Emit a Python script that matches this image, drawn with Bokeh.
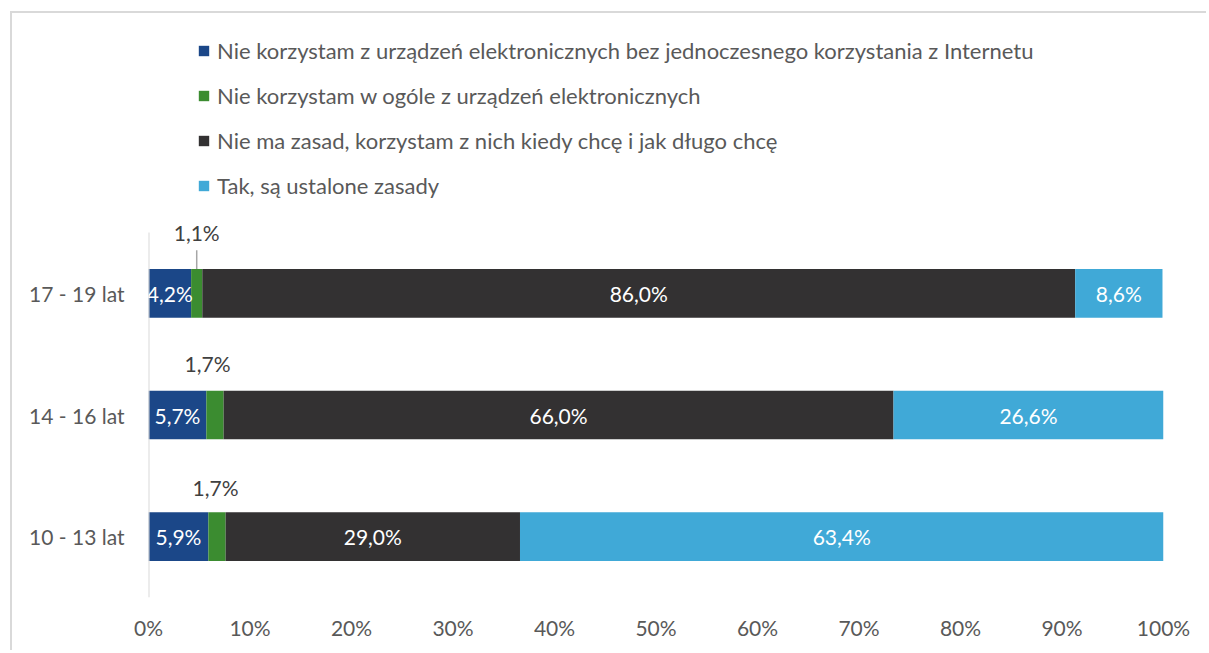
from bokeh.plotting import figure
from bokeh.models import (Range1d, FixedTicker, PrintfTickFormatter,
                          Legend, LegendItem, ColumnDataSource)
from bokeh.core.properties import value
from bokeh.embed import file_html
from bokeh.resources import INLINE

categories = ["10 - 13 lat", "14 - 16 lat", "17 - 19 lat"]
series_names = [
    "Nie korzystam z urządzeń elektronicznych bez jednoczesnego korzystania z Internetu",
    "Nie korzystam w ogóle z urządzeń elektronicznych",
    "Nie ma zasad, korzystam z nich kiedy chcę i jak długo chcę",
    "Tak, są ustalone zasady",
]
blue_vals = [5.9, 5.7, 4.2]
green_vals = [1.7, 1.7, 1.1]
dark_vals = [29.0, 66.0, 86.0]
light_vals = [63.4, 26.6, 8.6]
x_ticks = [0, 10, 20, 30, 40, 50, 60, 70, 80, 90, 100]

colors = ["#1b4788", "#3b8c30", "#333132", "#40a9d7"]
keys = ["blue", "green", "dark", "light"]
FONT = "Lato"

def fmt(v):
    return f"{v:.1f}".replace(".", ",") + "%"

ypos = list(range(len(categories)))
data = dict(y=ypos, blue=blue_vals, green=green_vals, dark=dark_vals, light=light_vals)
src = ColumnDataSource(data)

W, H = 1196, 639
FRAME_H = 584
unit_px = 365 / 3
y_top = -0.5 + FRAME_H / unit_px

p = figure(width=W, height=H, output_backend="svg", toolbar_location=None,
           y_range=Range1d(-0.5, y_top), x_range=Range1d(0, 100),
           min_border_left=136, min_border_right=W - 1151, min_border_top=0,
           min_border_bottom=H - FRAME_H)
p.margin = (11, 0, 0, 10)
p.styles = {"border-top": "2px solid #d9d9d9", "border-left": "2px solid #d9d9d9"}
p.outline_line_color = None
p.xgrid.grid_line_color = None
p.ygrid.grid_line_color = None

renderers = p.hbar_stack(keys, y="y", height=0.4, color=colors, source=src, line_color=None)

# axes
p.xaxis.ticker = FixedTicker(ticks=x_ticks)
p.xaxis.formatter = PrintfTickFormatter(format="%d%%")
p.xaxis.axis_line_color = None
p.xaxis.major_tick_line_color = None
p.xaxis.minor_tick_line_color = None
p.xaxis.major_label_text_font = FONT
p.xaxis.major_label_text_font_size = "21px"
p.xaxis.major_label_text_color = "#595959"
p.xaxis.major_label_standoff = 11

p.yaxis.ticker = FixedTicker(ticks=ypos)
p.yaxis.major_label_overrides = {i: c for i, c in zip(ypos, categories)}
p.yaxis.axis_line_color = None
p.yaxis.major_tick_line_color = None
p.yaxis.minor_tick_line_color = None
p.yaxis.major_label_text_font = FONT
p.yaxis.major_label_text_font_size = "21px"
p.yaxis.major_label_text_color = "#595959"
p.yaxis.major_label_standoff = 18

# vertical axis line drawn along the category band
p.segment(x0=[0], x1=[0], y0=[-0.5], y1=[len(categories) - 0.5],
          line_color="#d9d9d9", line_width=2)

# inside labels
cum_blue = [b / 2 for b in blue_vals]
cum_dark = [b + g + d / 2 for b, g, d in zip(blue_vals, green_vals, dark_vals)]
cum_light = [b + g + d + l / 2 for b, g, d, l in zip(blue_vals, green_vals, dark_vals, light_vals)]
lab_x = cum_blue + cum_dark + cum_light
lab_y = ypos * 3
lab_t = [fmt(v) for v in blue_vals] + [fmt(v) for v in dark_vals] + [fmt(v) for v in light_vals]
p.text(x=lab_x, y=lab_y, text=lab_t, text_color="white", text_align="center",
       text_baseline="middle", text_font=value(FONT), text_font_size="21px")

# green labels above bars
green_center = [b + g / 2 for b, g in zip(blue_vals, green_vals)]
lift = [0.403, 0.427, 0.5]
xoff = [-1.5, -7.5, 0]
p.text(x=green_center, y=[y + l for y, l in zip(ypos, lift)],
       text=[fmt(v) for v in green_vals], x_offset=xoff,
       text_color="#404040", text_align="center", text_baseline="middle",
       text_font=value(FONT), text_font_size="21px")

# leader line for the smallest label
p.segment(x0=[green_center[2]], x1=[green_center[2]], y0=[ypos[2] + 0.2],
          y1=[ypos[2] + 0.355], line_color="#a6a6a6", line_width=1.5)

legend = Legend(items=[LegendItem(label=n, renderers=[r]) for n, r in zip(series_names, renderers)],
                location=(49, 398), orientation="vertical")
legend.padding = 0
legend.margin = 0
legend.border_line_color = None
legend.background_fill_alpha = 0
legend.glyph_width = 13
legend.glyph_height = 13
legend.label_height = 27
legend.label_standoff = 7
legend.spacing = 18
legend.label_text_font = FONT
legend.label_text_font_size = "22px"
legend.label_text_color = "#595959"
p.add_layout(legend, "center")

open("out.html", "w").write(file_html(p, INLINE))
